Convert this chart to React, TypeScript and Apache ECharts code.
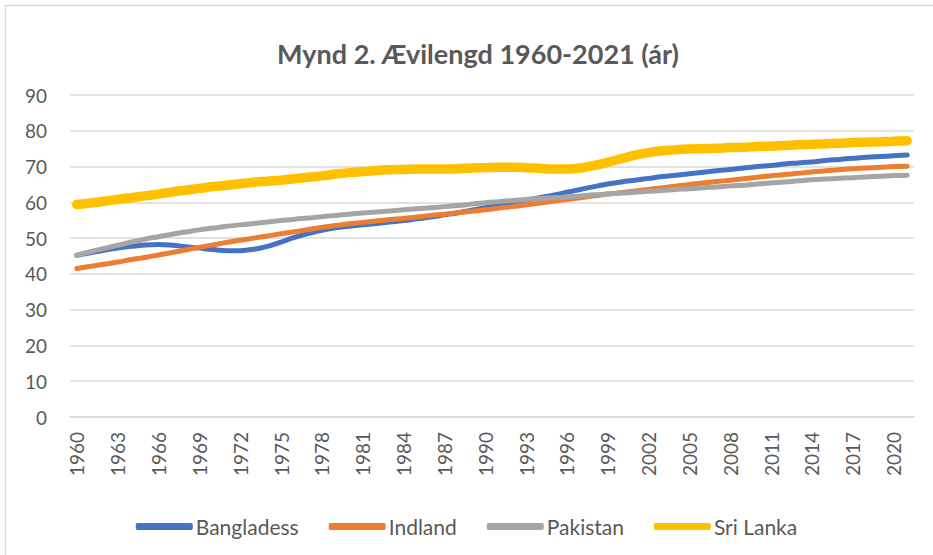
import React, { useEffect, useRef } from "react";
import * as echarts from "echarts";

const years = [
  "1960","1961","1962","1963","1964","1965","1966","1967","1968","1969",
  "1970","1971","1972","1973","1974","1975","1976","1977","1978","1979",
  "1980","1981","1982","1983","1984","1985","1986","1987","1988","1989",
  "1990","1991","1992","1993","1994","1995","1996","1997","1998","1999",
  "2000","2001","2002","2003","2004","2005","2006","2007","2008","2009",
  "2010","2011","2012","2013","2014","2015","2016","2017","2018","2019",
  "2020","2021",
];

const bangladesh = [
  45.2,45.9,46.6,47.2,47.7,48.1,48.2,48.0,47.6,47.2,
  46.8,46.5,46.5,46.9,47.7,48.9,50.2,51.3,52.2,52.9,
  53.3,53.7,54.1,54.5,54.9,55.4,55.9,56.5,57.1,57.8,
  58.5,59.2,59.9,60.6,61.3,62.0,62.8,63.6,64.4,65.1,
  65.7,66.2,66.7,67.2,67.6,68.0,68.4,68.8,69.2,69.6,
  70.0,70.3,70.7,71.0,71.3,71.7,72.0,72.3,72.6,72.8,
  73.0,73.2,
];

const indland = [
  41.5,42.1,42.7,43.3,44.0,44.6,45.3,46.0,46.7,47.4,
  48.1,48.8,49.4,50.0,50.6,51.2,51.8,52.4,53.0,53.5,
  54.0,54.4,54.8,55.2,55.5,55.9,56.3,56.7,57.1,57.5,
  57.9,58.4,58.8,59.3,59.8,60.3,60.8,61.3,61.8,62.3,
  62.7,63.2,63.6,64.1,64.5,65.0,65.4,65.8,66.2,66.6,
  67.0,67.4,67.8,68.1,68.5,68.8,69.1,69.4,69.6,69.8,
  70.0,70.1,
];

const pakistan = [
  45.2,46.2,47.1,48.0,48.9,49.7,50.4,51.1,51.7,52.3,
  52.8,53.3,53.7,54.1,54.5,54.9,55.3,55.6,56.0,56.3,
  56.7,57.0,57.3,57.6,57.9,58.2,58.5,58.8,59.1,59.5,
  59.9,60.2,60.5,60.8,61.1,61.3,61.5,61.8,62.1,62.3,
  62.6,62.8,63.1,63.3,63.6,63.8,64.1,64.3,64.6,64.8,
  65.1,65.4,65.7,66.0,66.3,66.5,66.7,66.9,67.1,67.3,
  67.5,67.6,
];

const sriLanka = [
  59.4,59.8,60.3,60.8,61.3,61.8,62.3,62.9,63.4,63.9,
  64.4,64.8,65.2,65.6,65.9,66.2,66.6,67.0,67.4,67.9,
  68.3,68.6,68.9,69.1,69.2,69.3,69.3,69.3,69.4,69.6,
  69.7,69.8,69.8,69.7,69.5,69.3,69.3,69.6,70.3,71.2,
  72.2,73.2,73.9,74.4,74.7,74.9,75.0,75.1,75.3,75.4,
  75.6,75.7,75.9,76.1,76.2,76.4,76.5,76.7,76.8,76.9,
  77.1,77.2,
];

const seriesNames = ["Bangladess", "Indland", "Pakistan", "Sri Lanka"];
const seriesColors = ["#4472C4", "#ED7D31", "#A5A5A5", "#FFC000"];
const seriesWidths = [5, 5, 5, 9.5];
const seriesData = [bangladesh, indland, pakistan, sriLanka];

const titleText = "Mynd 2. Ævilengd 1960-2021 (ár)";
const FONT = "Lato, 'Open Sans', sans-serif";
const TEXT = "#595959";

export default function App() {
  const ref = useRef<HTMLDivElement>(null);

  useEffect(() => {
    document.body.style.margin = "0";
    const chart = echarts.init(ref.current!, null, { renderer: "svg" });
    chart.setOption({
      animation: false,
      backgroundColor: "#ffffff",
      textStyle: { fontFamily: FONT },
      graphic: [
        {
          type: "rect",
          shape: { x: 5.5, y: 5.5, width: 1000, height: 1000 },
          style: { fill: "none", stroke: "#d9d9d9", lineWidth: 1.5 },
          silent: true,
        },
        {
          type: "text",
          x: 478,
          y: 53,
          style: {
            text: titleText,
            fontFamily: FONT,
            fontWeight: "bold",
            fontSize: 27,
            fill: TEXT,
            textAlign: "center",
            textVerticalAlign: "middle",
          },
        },
      ],
      grid: { left: 70, right: 19, top: 95, bottom: 138 },
      legend: {
        data: seriesNames.map((name, i) => ({
          name,
          icon: "roundRect",
        })),
        top: 511,
        left: "center",
        itemWidth: 57,
        itemHeight: 7,
        itemGap: 30,
        textStyle: { color: TEXT, fontSize: 21, fontFamily: FONT, padding: [0, 0, 0, -2] },
      },
      xAxis: {
        type: "category",
        data: years,
        boundaryGap: true,
        axisLine: { lineStyle: { color: "#d9d9d9", width: 1.5 } },
        axisTick: { show: false },
        axisLabel: {
          interval: 2,
          rotate: 90,
          color: TEXT,
          fontSize: 19,
          margin: 15,
          fontFamily: FONT,
        },
      },
      yAxis: {
        type: "value",
        min: 0,
        max: 90,
        interval: 10,
        axisLine: { show: false },
        axisTick: { show: false },
        splitLine: { lineStyle: { color: "#d9d9d9", width: 1.5 } },
        axisLabel: { color: TEXT, fontSize: 19, margin: 23, fontFamily: FONT },
      },
      series: seriesNames.map((name, i) => ({
        name,
        type: "line",
        data: seriesData[i],
        smooth: 0.4,
        showSymbol: false,
        symbol: "none",
        color: seriesColors[i],
        itemStyle: { color: seriesColors[i] },
        lineStyle: { color: seriesColors[i], width: seriesWidths[i], cap: "round", join: "round" },
      })),
    });
    return () => chart.dispose();
  }, []);

  return (
    <div
      ref={ref}
      style={{ position: "fixed", left: 0, top: 0, width: 933, height: 555 }}
    />
  );
}
